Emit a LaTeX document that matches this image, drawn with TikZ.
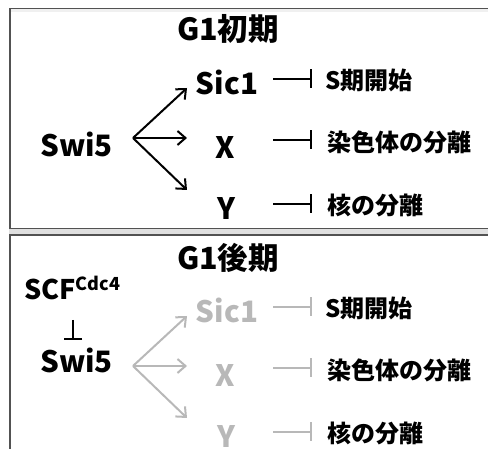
\documentclass[tikz,border=0pt]{standalone}
\usepackage{fontspec}
\setmainfont{Noto Sans CJK JP}
\usetikzlibrary{arrows.meta}
\begin{document}
\begin{tikzpicture}[x=1pt,y=-1pt,
  frame/.style={draw=black!68, line width=1.6pt},
  title/.style={font=\fontsize{30.5}{31}\selectfont\bfseries, anchor=base, inner sep=0pt},
  gene/.style={font=\fontsize{29.5}{30}\selectfont\bfseries, anchor=base, inner sep=0pt},
  proc/.style={font=\fontsize{24}{25}\selectfont\bfseries, anchor=west, inner sep=0pt},
  act/.style={line width=2pt, -{Straight Barb[length=8pt,width=14pt,line width=2pt]}},
  inh/.style={line width=2.4pt, -{Bar[width=19pt,line width=2.4pt]}},
  faded/.style={black!28}]
\useasboundingbox (0,0) rectangle (488,449);
\clip (0,0) rectangle (488,449);
% shadow band between panels
\fill[black!12] (9,229) rectangle (488,234.5);
\fill[black!6] (10,9.5) rectangle (488,12);
% frames
\draw[frame] (495,8.5) -- (9.8,8.5) -- (9.8,228.5) -- (495,228.5);
\draw[frame] (495,235) -- (9.8,235) -- (9.8,460);
% ---------- top panel ----------
\node[title] (ttl1) at (228,41) {G1初期};
\node[gene, anchor=base west] (sw1) at (40,157) {Swi5};
\node[gene] (sic1) at (227,95) {Sic1};
\node[gene] (x1) at (225,159) {X};
\node[gene] (y1) at (226,220) {Y};
\coordinate (v1) at (133,138);
\coordinate (a1) at (187,88);
\coordinate (b1) at (187,138);
\coordinate (c1) at (187,190);
\draw[act] (v1) -- (a1);
\draw[act] (v1) -- (b1);
\draw[act] (v1) -- (c1);
\node[proc] (p1) at (325,80) {S期開始};
\node[proc] (q1) at (327,142) {染色体の分離};
\node[proc] (r1) at (327,205) {核の分離};
\coordinate (i1) at (273,79);
\coordinate (j1) at (273,140);
\coordinate (k1) at (273,204);
\draw[inh] (i1) -- ([xshift=-13pt]i1 -| p1.west);
\draw[inh] (j1) -- ([xshift=-15pt]j1 -| q1.west);
\draw[inh] (k1) -- ([xshift=-15pt]k1 -| r1.west);
% ---------- bottom panel ----------
\node[title] (ttl2) at (228,270) {G1後期};
\node[font=\fontsize{27}{27}\selectfont\bfseries, anchor=base west, inner sep=0pt] (scf) at (24,300) {SCF\textsuperscript{\fontsize{18}{18}\selectfont Cdc4}};
\node[gene, anchor=base west] (sw2) at (40,373) {Swi5};
\coordinate (s1) at (73,320);
\coordinate (s2) at (73,340);
\draw[line width=2pt, -{Bar[width=18pt,line width=2pt]}] (s1) -- (s2);
\node[gene, faded] (sic2) at (227,323) {Sic1};
\node[gene, faded] (x2) at (225,387) {X};
\node[gene, faded] (y2) at (226,448) {Y};
\coordinate (v2) at (133,366);
\coordinate (a2) at (187,316);
\coordinate (b2) at (187,366);
\coordinate (c2) at (187,418);
\draw[act, faded] (v2) -- (a2);
\draw[act, faded] (v2) -- (b2);
\draw[act, faded] (v2) -- (c2);
\node[proc] (p2) at (325,308) {S期開始};
\node[proc] (q2) at (327,370) {染色体の分離};
\node[proc] (r2) at (327,433) {核の分離};
\coordinate (i2) at (273,307);
\coordinate (j2) at (273,368);
\coordinate (k2) at (273,432);
\draw[inh, faded] (i2) -- ([xshift=-13pt]i2 -| p2.west);
\draw[inh, faded] (j2) -- ([xshift=-15pt]j2 -| q2.west);
\draw[inh, faded] (k2) -- ([xshift=-15pt]k2 -| r2.west);
\end{tikzpicture}
\end{document}
